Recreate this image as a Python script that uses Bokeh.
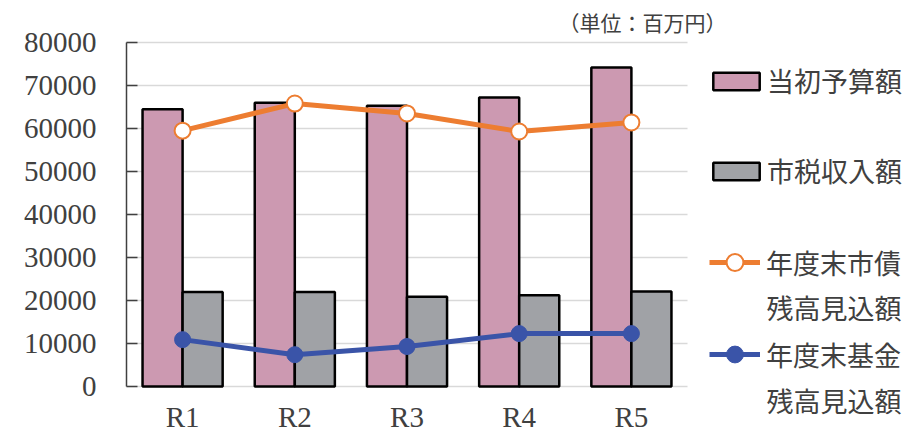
from bokeh.plotting import figure
from bokeh.models import (Range1d, FixedTicker, Legend, LegendItem, Label,
                          ColumnDataSource)
from bokeh.transform import dodge
from bokeh.embed import file_html
from bokeh.resources import INLINE

# ---------------- data ----------------
years = ["R1", "R2", "R3", "R4", "R5"]
budget = [64500, 66000, 65300, 67200, 74200]      # 当初予算額
tax = [22000, 22000, 20900, 21200, 22100]         # 市税収入額
debt = [59500, 65800, 63500, 59300, 61400]        # 年度末市債残高見込額
fund = [10900, 7400, 9300, 12300, 12300]          # 年度末基金残高見込額
y_ticks = [0, 10000, 20000, 30000, 40000, 50000, 60000, 70000, 80000]
series_names = ["当初予算額", "市税収入額", "年度末市債", "年度末基金"]
name_second_line = "残高見込額"
unit_note = "（単位：百万円）"

# ---------------- layout (pixels) ----------------
W, H = 913, 434
AX_LEFT, AX_RIGHT = 126, 687      # plotting area, x
Y_TOP_PX, ZERO_PX = 42, 386       # pixel rows of 80000 and 0
Y_MAX = 80000
n = len(years)
cat_px = (AX_RIGHT - AX_LEFT) / n
X_START = -0.5 - AX_LEFT / cat_px
X_END = n - 0.5 + (W - AX_RIGHT) / cat_px
upx = Y_MAX / (ZERO_PX - Y_TOP_PX)
Y_START = -(H - ZERO_PX) * upx
Y_END = Y_MAX + Y_TOP_PX * upx

PINK = "#CC99B1"
GRAY = "#A0A2A6"
ORANGE = "#ED7D31"
BLUE = "#3A54A8"
TXT = "#404040"
SERIF = "Liberation Serif"
CJK = "Noto Sans CJK JP"

p = figure(width=W, height=H, x_range=Range1d(X_START, X_END),
           y_range=Range1d(Y_START, Y_END), output_backend="svg", toolbar_location=None,
           min_border=0)
p.outline_line_color = None
p.background_fill_color = "white"
p.border_fill_color = "white"
p.xgrid.visible = False
p.ygrid.visible = False

xpos = list(range(n))
src = ColumnDataSource(dict(x=xpos, budget=budget, tax=tax, debt=debt, fund=fund))

# horizontal gridlines limited to the plotting area
p.segment(x0=-0.5, x1=n - 0.5, y0=y_ticks, y1=y_ticks, line_color="#D9D9D9",
          line_width=1.5)

BW = 0.357
r_budget = p.vbar(x=dodge("x", -BW / 2), top="budget", bottom=0, width=BW,
                  source=src, fill_color=PINK, line_color="black", line_width=2.5)
r_tax = p.vbar(x=dodge("x", BW / 2), top="tax", bottom=0, width=BW,
               source=src, fill_color=GRAY, line_color="black", line_width=2.5)
r_debt_l = p.line("x", "debt", source=src, line_color=ORANGE, line_width=5)
r_debt_m = p.scatter("x", "debt", source=src, size=16, fill_color="white",
                     line_color=ORANGE, line_width=2)
r_fund_l = p.line("x", "fund", source=src, line_color=BLUE, line_width=5)
r_fund_m = p.scatter("x", "fund", source=src, size=16, fill_color=BLUE,
                     line_color=BLUE, line_width=1)

# y axis at the left edge of the plotting area
yax = p.yaxis[0]
yax.fixed_location = -0.5
yax.ticker = FixedTicker(ticks=y_ticks)
yax.bounds = (0, Y_MAX)
yax.major_tick_in = 11
yax.major_tick_out = 0
yax.minor_tick_line_color = None
yax.axis_line_color = TXT
yax.axis_line_width = 1.5
yax.major_tick_line_color = TXT
yax.major_tick_line_width = 1.5
yax.major_label_text_font = SERIF
yax.major_label_text_font_size = "29px"
yax.major_label_text_color = TXT
yax.major_label_standoff = 30

# x axis drawn at y = 0
xax = p.xaxis[0]
xax.fixed_location = 0
xax.ticker = FixedTicker(ticks=xpos)
xax.major_label_overrides = {i: years[i] for i in xpos}
xax.axis_line_color = None
xax.major_tick_line_color = None
xax.minor_tick_line_color = None
xax.major_label_text_font = SERIF
xax.major_label_text_font_size = "29px"
xax.major_label_text_color = TXT
xax.major_label_standoff = 8


def add_legend(label, renderers, x, yc, gw, gh, standoff, box_h):
    lg = Legend(items=[LegendItem(label=label, renderers=renderers)],
                location=(x, int(round(yc - box_h / 2))), glyph_width=gw, glyph_height=gh,
                label_height=gh, label_standoff=standoff, padding=0, margin=0,
                spacing=0, border_line_color=None, background_fill_alpha=0,
                label_text_font=CJK, label_text_font_size="27px",
                label_text_color=TXT)
    p.add_layout(lg, "center")


# legend positions: x from left, yc = item centre measured from bottom
add_legend(series_names[0], [r_budget], 707, H - 80, 58, 22, 2, 39)
add_legend(series_names[1], [r_tax], 707, H - 171, 58, 22, 2, 39)
add_legend(series_names[2], [r_debt_l, r_debt_m], 709, H - 262, 51, 42, 6, 42)
add_legend(series_names[3], [r_fund_l, r_fund_m], 709, H - 354, 51, 42, 6, 42)

for yy in (H - 307, H - 400):
    p.add_layout(Label(x=766, y=yy, x_units="screen", y_units="screen",
                       text=name_second_line, text_font=CJK, text_font_size="27px",
                       text_color=TXT, text_baseline="middle", text_align="left"))

p.add_layout(Label(x=642, y=H - 21, x_units="screen", y_units="screen", text=unit_note,
                   text_font=CJK, text_font_size="21px", text_color=TXT,
                   text_baseline="middle", text_align="center"))

open("out.html", "w").write(file_html(p, INLINE))
